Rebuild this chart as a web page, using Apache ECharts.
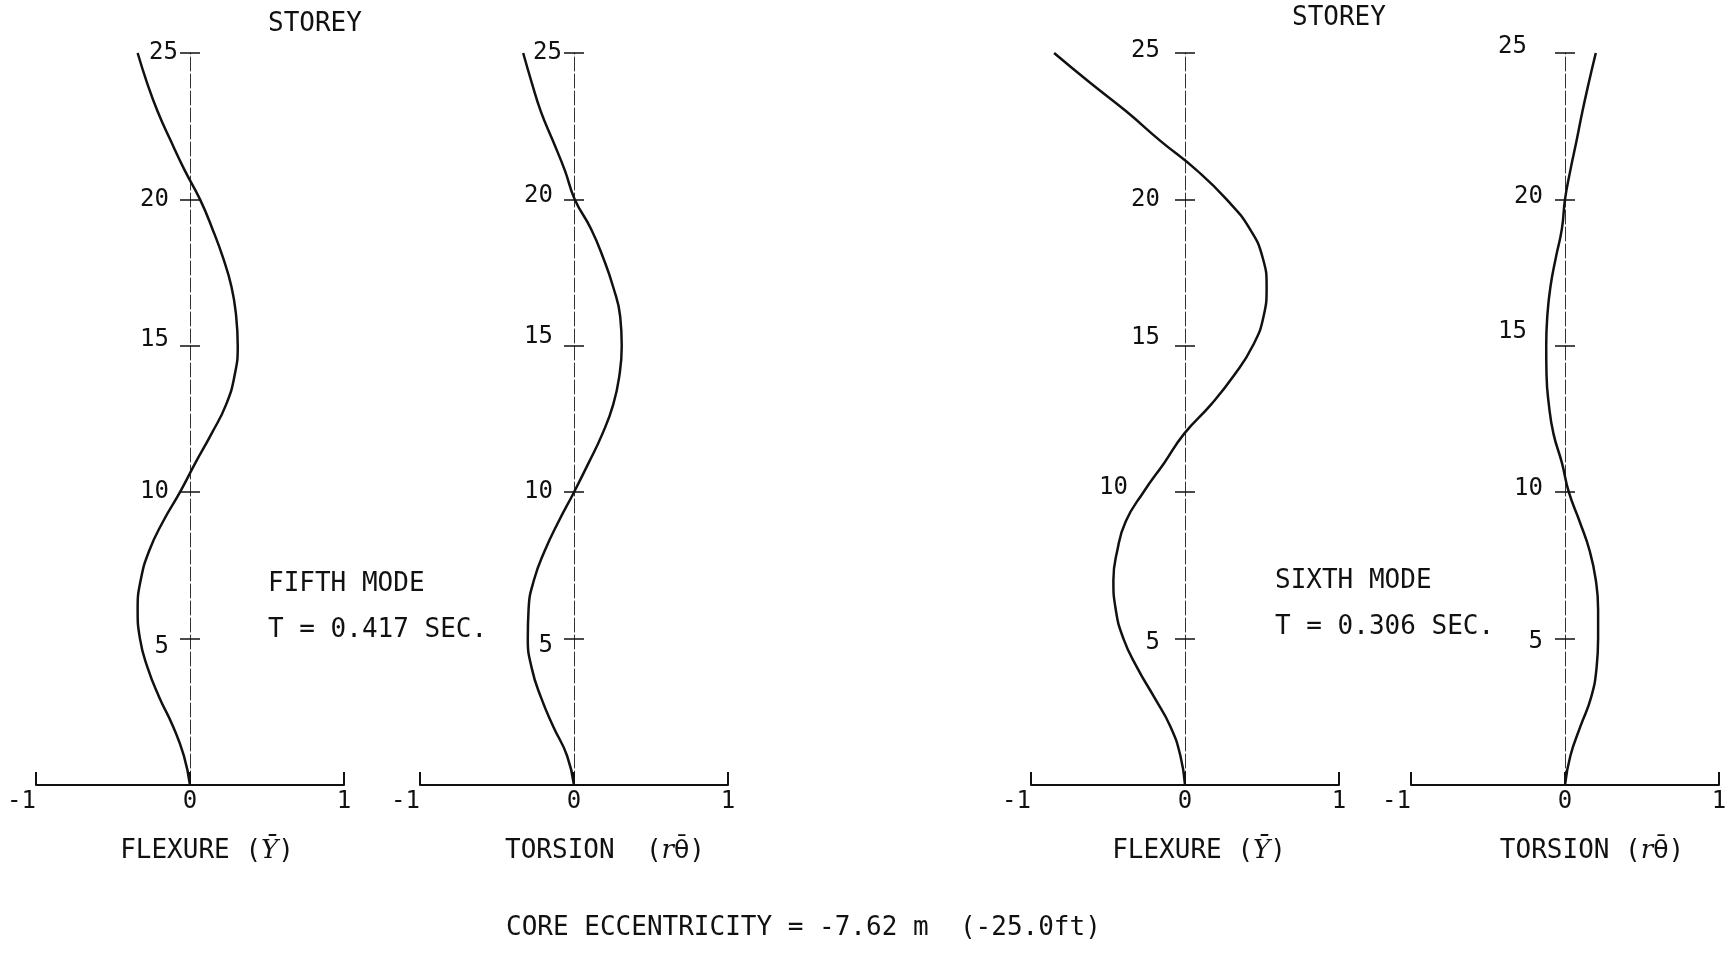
<!DOCTYPE html>
<html><head><meta charset="utf-8">
<script src="https://cdn.jsdelivr.net/npm/echarts@6/dist/echarts.min.js"></script>
<style>html,body{margin:0;padding:0;background:#fff}#c{width:1733px;height:956px}</style>
</head><body><div id="c"></div>
<script>
// ---------- data ----------
const storeys = [0,1,2,3,4,5,6,7,8,9,10,11,12,13,14,15,16,17,18,19,20,21,22,23,24,25];
const fifthFlexure = [0,-0.04,-0.11,-0.2,-0.275,-0.325,-0.34,-0.32,-0.265,-0.175,-0.065,0.035,0.14,0.235,0.29,0.31,0.3,0.27,0.215,0.145,0.065,-0.035,-0.125,-0.21,-0.28,-0.34];
const fifthTorsion = [0,-0.045,-0.135,-0.215,-0.275,-0.3,-0.295,-0.26,-0.19,-0.1,0,0.095,0.185,0.255,0.295,0.31,0.3,0.255,0.19,0.11,0.005,-0.06,-0.137,-0.215,-0.275,-0.33];
const sixthFlexure = [0,-0.03,-0.095,-0.2,-0.31,-0.4,-0.45,-0.465,-0.44,-0.385,-0.27,-0.135,-0.005,0.17,0.32,0.44,0.51,0.53,0.505,0.42,0.27,0.075,-0.16,-0.38,-0.62,-0.85];
const sixthTorsion = [0,0.035,0.1,0.17,0.205,0.215,0.215,0.2,0.16,0.095,0.025,-0.02,-0.075,-0.105,-0.12,-0.122,-0.115,-0.095,-0.06,-0.02,0,0.035,0.075,0.113,0.155,0.2];
const xTickValues = [-1, 0, 1];
const xTickLabels = ['-1', '0', '1'];
const yTickLabels = ['', '5', '10', '15', '20', '25'];
const storeyTitle = 'STOREY';
const modeTitles = ['FIFTH MODE', 'SIXTH MODE'];
const modePeriods = ['T = 0.417 SEC.', 'T = 0.306 SEC.'];
const axisTitles = ['FLEXURE ({i|Ȳ})', 'TORSION  ({i|r}{t|θ\u0304})', 'FLEXURE ({i|Ȳ})', 'TORSION ({i|r}{t|θ\u0304})'];
const footerText = 'CORE ECCENTRICITY = -7.62 m  (-25.0ft)';

// ---------- layout / style ----------
const FONT = "'DejaVu Sans Mono', monospace";
const INK = '#111';
const panels = [
  {values: fifthFlexure, left: 36,   nameShift: 17, margin: 12, adj: {25:[0,0],20:[9,0],15:[9,-6],10:[9,0],5:[9,8]}},
  {values: fifthTorsion, left: 420,  nameShift: 31, margin: 12, adj: {25:[0,0],20:[9,-4],15:[9,-9],10:[9,0],5:[9,7]}},
  {values: sixthFlexure, left: 1031, nameShift: 14, margin: 25, adj: {25:[0,-2],20:[0,0],15:[0,-8],10:[32,-4],5:[0,4]}},
  {values: sixthTorsion, left: 1411, nameShift: 27, margin: 22, adj: {25:[16,-6],20:[0,-3],15:[16,-14],10:[0,-3],5:[0,3]}}
];
const GRID_TOP = 53, GRID_H = 732, GRID_W = 308;

const grid = [], xAxis = [], yAxis = [], series = [];
panels.forEach((p, i) => {
  grid.push({left: p.left, top: GRID_TOP, width: GRID_W, height: GRID_H});
  xAxis.push({
    gridIndex: i, type: 'value', min: xTickValues[0], max: xTickValues[2], interval: 1,
    axisLine: {onZero: false, lineStyle: {color: INK, width: 2}},
    axisTick: {inside: true, length: 13, lineStyle: {color: INK, width: 2}},
    splitLine: {show: false},
    axisLabel: {
      margin: 5, color: INK, fontSize: 24, fontFamily: FONT,
      formatter: v => {
        const t = xTickLabels[xTickValues.indexOf(v)];
        return v < 0 ? '{n|' + t + '}' : t;
      },
      rich: {n: {padding: [0, 29, 0, 0], fontSize: 24, fontFamily: FONT, color: INK}}
    },
    name: axisTitles[i], nameLocation: 'middle', nameGap: 53,
    nameTextStyle: {color: INK, fontSize: 26, fontFamily: FONT, padding: [0, 0, 0, 2 * p.nameShift],
      rich: {
        i: {fontStyle: 'italic', fontSize: 26, fontFamily: "'DejaVu Serif', serif", color: INK},
        t: {fontSize: 25, fontFamily: "'DejaVu Sans', sans-serif", color: INK}
      }}
  });
  const rich = {};
  Object.keys(p.adj).forEach(k => {
    const [dx, dy] = p.adj[k];
    rich['l' + k] = {fontSize: 24, fontFamily: FONT, color: INK,
      padding: [dy > 0 ? 2 * dy : 0, dx, dy < 0 ? -2 * dy : 0, 0]};
  });
  yAxis.push({
    gridIndex: i, type: 'value', min: 0, max: 25, interval: 5, position: 'left', offset: -GRID_W / 2,
    axisLine: {show: true, onZero: false, lineStyle: {color: '#333', width: 1, type: [14, 3]}},
    axisTick: {show: true, inside: false, length: 10, lineStyle: {color: '#111', width: 1.5}},
    splitLine: {show: false},
    axisLabel: {margin: p.margin, color: INK, fontSize: 24, fontFamily: FONT,
      formatter: v => { const t = yTickLabels[v / 5]; return t ? '{l' + v + '|' + t + '}' : ''; },
      rich: rich}
  });
  yAxis.push({
    gridIndex: i, type: 'value', min: 0, max: 25, interval: 5, position: 'right', offset: -GRID_W / 2,
    axisLine: {show: false, onZero: false},
    axisTick: {show: true, inside: false, length: 10, lineStyle: {color: '#111', width: 1.5}},
    splitLine: {show: false},
    axisLabel: {show: false}
  });
  series.push({
    type: 'line', xAxisIndex: i, yAxisIndex: 2 * i,
    data: storeys.map((s, k) => [p.values[k], s]),
    symbol: 'none', smooth: 0.5, silent: true,
    lineStyle: {color: INK, width: 2.5}
  });
});

const txt = (text, x, y) => ({type: 'text', x: x, y: y,
  style: {text: text, fill: INK, fontSize: 26, fontFamily: FONT, align: 'left', verticalAlign: 'middle'}});

const chart = echarts.init(document.getElementById('c'), null, {renderer: 'canvas'});
chart.setOption({
  backgroundColor: '#fff',
  animation: false,
  grid, xAxis, yAxis, series,
  graphic: [
    txt(storeyTitle, 268, 24),
    txt(storeyTitle, 1292, 18),
    txt(modeTitles[0], 268, 584),
    txt(modePeriods[0], 268, 630),
    txt(modeTitles[1], 1275, 581),
    txt(modePeriods[1], 1275, 627),
    txt(footerText, 506, 928)
  ]
});
</script></body></html>
